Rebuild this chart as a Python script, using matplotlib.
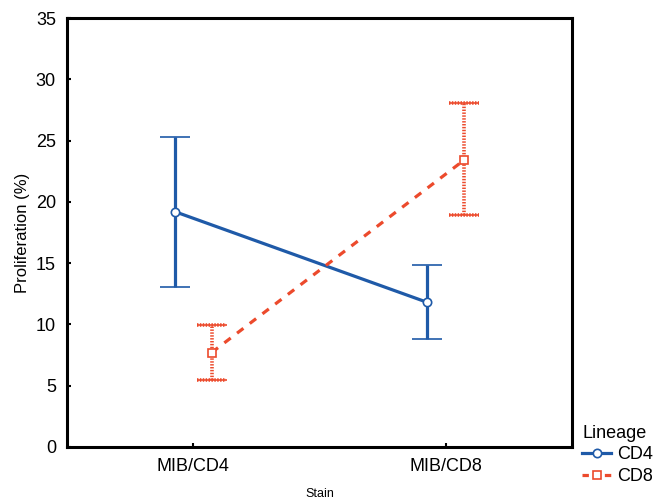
import matplotlib
matplotlib.use('Agg')
import matplotlib.pyplot as plt
from matplotlib.lines import Line2D
import numpy as np

plt.rcParams['font.family'] = ['Liberation Sans', 'DejaVu Sans']

# Data
stains = ['MIB/CD4', 'MIB/CD8']
cd4_mean = [19.2, 11.8]
cd4_low = [13.05, 8.8]
cd4_high = [25.3, 14.85]
cd8_mean = [7.7, 23.4]
cd8_low = [5.45, 18.9]
cd8_high = [9.95, 28.05]

blue = '#1f5aa8'
red = '#ec4a2c'

fig = plt.figure(figsize=(6.64, 5.01), dpi=100)
ax = fig.add_axes([0.101, 0.108, 0.76, 0.856])

x = np.arange(len(stains))
off = 0.073

# CD4
ax.errorbar(x - off, cd4_mean,
            yerr=[np.array(cd4_mean) - np.array(cd4_low), np.array(cd4_high) - np.array(cd4_mean)],
            color=blue, lw=2.3, capsize=11, capthick=2.3, elinewidth=2.3,
            marker='o', ms=6, mfc='white', mec=blue, mew=1.2, zorder=3)

# CD8 (dotted error bars, dashed line)
eb = ax.errorbar(x + off, cd8_mean,
                 yerr=[np.array(cd8_mean) - np.array(cd8_low), np.array(cd8_high) - np.array(cd8_mean)],
                 color=red, lw=2.3, ls=(0, (2.5, 2.5)), capsize=11, capthick=2.6, elinewidth=2.6,
                 marker='s', ms=6, mfc='white', mec=red, mew=1.2, zorder=3)
for col in eb[2]:
    col.set_linestyle((0, (0.4, 0.4)))
for cap in eb[1]:
    cap.set_linestyle('none')
# caps drawn as dotted horizontal segments
for xi, lo, hi in zip(x + off, cd8_low, cd8_high):
    for yv in (lo, hi):
        ax.plot([xi - 0.058, xi + 0.058], [yv, yv], color=red, lw=2.6,
                ls=(0, (0.4, 0.4)), zorder=2)

ax.set_xlim(-0.5, 1.5)
ax.set_ylim(0, 35)
ax.set_yticks(range(0, 36, 5))
ax.set_xticks(x)
ax.set_xticklabels(stains)
ax.tick_params(direction='in', length=3, width=1.5, labelsize=13, pad=8)
for s in ax.spines.values():
    s.set_linewidth(2.2)

ax.set_ylabel('Proliferation (%)', fontsize=12, labelpad=4)
ax.set_xlabel('Stain', fontsize=9, labelpad=9)

handles = [
    Line2D([], [], color=blue, lw=2.3, marker='o', ms=6, mfc='white', mec=blue, mew=1.2),
    Line2D([], [], color=red, lw=2.3, ls=(0, (2, 1.5)), marker='s', ms=6, mfc='white', mec=red, mew=1.2),
]
leg = fig.legend(handles, ['CD4', 'CD8'], loc='upper left', bbox_to_anchor=(0.877, 0.152),
                 title='Lineage', frameon=False, fontsize=13, title_fontsize=13,
                 handlelength=1.6, handletextpad=0.3, borderaxespad=0, borderpad=0,
                 labelspacing=0.25)
leg._legend_box.align = 'left'

fig.savefig('out.png', dpi=100)
